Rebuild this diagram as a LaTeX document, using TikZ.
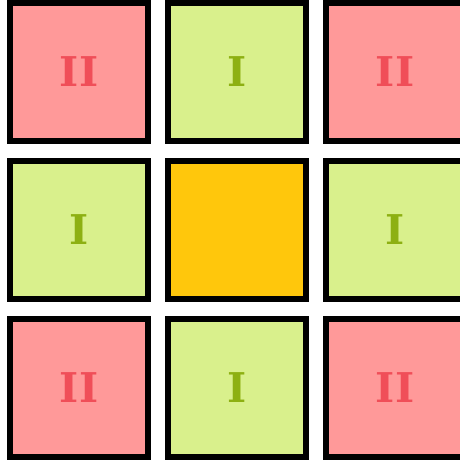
\documentclass[tikz,border=0pt]{standalone}
\usepackage{fontspec}
\setmainfont{DejaVu Serif}
\definecolor{redfill}{RGB}{255,153,153}
\definecolor{redtext}{RGB}{240,78,88}
\definecolor{greenfill}{RGB}{217,240,140}
\definecolor{greentext}{RGB}{141,176,18}
\definecolor{orangefill}{RGB}{255,199,12}
\begin{document}
\begin{tikzpicture}[x=1pt,y=-1pt,
  cell/.style={draw=black,line width=6pt,minimum size=138pt,inner sep=0pt,
    font=\fontsize{41}{41}\selectfont\bfseries},
  redcell/.style={cell,fill=redfill,text=redtext},
  greencell/.style={cell,fill=greenfill,text=greentext},
  orangecell/.style={cell,fill=orangefill}]
\useasboundingbox (0,0) rectangle (460,464);
\fill[white] (0,0) rectangle (460,464);
\node[redcell]    (a1) at (79,72)  {II};
\node[greencell]  (a2) at (237,72) {I};
\node[redcell]    (a3) at (395,72) {II};
\node[greencell]  (b1) at (79,230)  {I};
\node[orangecell] (b2) at (237,230) {};
\node[greencell]  (b3) at (395,230) {I};
\node[redcell]    (c1) at (79,388)  {II};
\node[greencell]  (c2) at (237,388) {I};
\node[redcell]    (c3) at (395,388) {II};
\end{tikzpicture}
\end{document}
